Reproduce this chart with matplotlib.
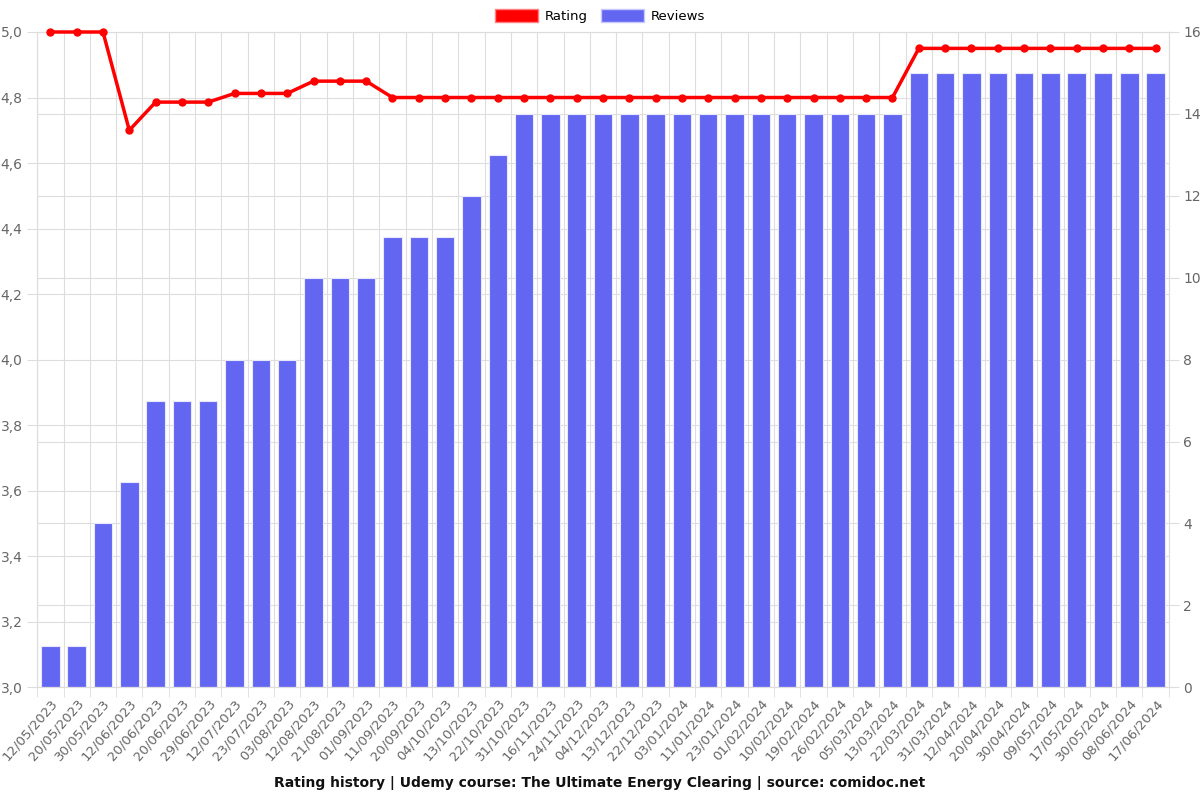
import numpy as np
import matplotlib
matplotlib.use('Agg')
import matplotlib.pyplot as plt
from matplotlib.patches import Patch
from matplotlib.ticker import FuncFormatter, FixedLocator

dates = ['12/05/2023', '20/05/2023', '30/05/2023', '12/06/2023', '20/06/2023',
         '20/06/2023', '29/06/2023', '12/07/2023', '23/07/2023', '03/08/2023',
         '12/08/2023', '21/08/2023', '01/09/2023', '11/09/2023', '20/09/2023',
         '04/10/2023', '13/10/2023', '22/10/2023', '31/10/2023', '16/11/2023',
         '24/11/2023', '04/12/2023', '13/12/2023', '22/12/2023', '03/01/2024',
         '11/01/2024', '23/01/2024', '01/02/2024', '10/02/2024', '19/02/2024',
         '26/02/2024', '05/03/2024', '13/03/2024', '22/03/2024', '31/03/2024',
         '12/04/2024', '20/04/2024', '30/04/2024', '09/05/2024', '17/05/2024',
         '30/05/2024', '08/06/2024', '17/06/2024']

reviews = [1, 1, 4, 5, 7, 7, 7, 8, 8, 8, 10, 10, 10, 11, 11, 11, 12, 13,
           14, 14, 14, 14, 14, 14, 14, 14, 14, 14, 14, 14, 14, 14, 14,
           15, 15, 15, 15, 15, 15, 15, 15, 15, 15]

rating = [5.0, 5.0, 5.0, 4.7, 4.786, 4.786, 4.786, 4.8125, 4.8125, 4.8125,
          4.85, 4.85, 4.85, 4.8, 4.8, 4.8, 4.8, 4.8, 4.8, 4.8, 4.8, 4.8,
          4.8, 4.8, 4.8, 4.8, 4.8, 4.8, 4.8, 4.8, 4.8, 4.8, 4.8,
          4.95, 4.95, 4.95, 4.95, 4.95, 4.95, 4.95, 4.95, 4.95, 4.95]

bar_color = '#6366f1'
line_color = '#ff0000'
grid_color = '#dddddd'
text_color = '#666666'

fig = plt.figure(figsize=(12, 8), dpi=100)
ax = fig.add_axes([0.031, 0.141, 0.943, 0.819])
ax2 = ax.twinx()

x = np.arange(len(dates))
r_min, r_max = 3.0, 5.0
n_max = 16

# vertical grid between categories, behind the bars
edges = np.arange(-0.5, len(dates), 1.0)
ax2.vlines(edges, 0, n_max, color=grid_color, linewidth=0.8, zorder=0)

# bars on the right axis
ax2.bar(x, reviews, width=0.7, color=bar_color, edgecolor='#e8e8ff', linewidth=0.8, zorder=2)
ax2.set_ylim(0, n_max)
ax2.set_yticks(np.arange(0, n_max + 1, 2))

# left axis ticks mapped onto the right axis so the grid sits behind the bars
left_ticks = np.arange(r_min, r_max + 0.01, 0.2)
ax2.yaxis.set_minor_locator(FixedLocator((left_ticks - r_min) / (r_max - r_min) * n_max))
ax2.tick_params(axis='y', which='minor', length=0)

# rating line on the left axis, drawn above bars
ax.set_zorder(ax2.get_zorder() + 1)
ax.patch.set_visible(False)
ax.plot(x, rating, color=line_color, linewidth=2.5, marker='o', markersize=5, zorder=5, clip_on=False)
ax.set_ylim(r_min, r_max)
ax.set_yticks(left_ticks)
ax.yaxis.set_major_formatter(FuncFormatter(lambda v, p: ('%.1f' % v).replace('.', ',')))

ax.set_xlim(-0.5, len(dates) - 0.5)
ax.set_xticks(x)
ax.set_xticklabels(dates, rotation=49, ha='right', va='top', rotation_mode='anchor', fontsize=9.5)
ax.xaxis.set_minor_locator(FixedLocator(edges))
ax.tick_params(axis='x', which='major', length=0, pad=7)
ax.tick_params(axis='x', which='minor', length=7, color=grid_color)

# horizontal grids (behind bars)
ax2.set_axisbelow(True)
ax2.grid(True, axis='y', which='both', color=grid_color, linewidth=0.8)
ax.grid(False)

for a in (ax, ax2):
    for s in a.spines.values():
        s.set_color(grid_color)
    a.tick_params(axis='y', colors=text_color, labelsize=10)
    a.tick_params(axis='y', which='major', length=7, color=grid_color)
ax.tick_params(axis='x', labelcolor=text_color)

handles = [Patch(facecolor=line_color, edgecolor='#ff8080', label='Rating'),
           Patch(facecolor=bar_color, edgecolor='#c8c8ff', label='Reviews')]
fig.legend(handles=handles, loc='center', bbox_to_anchor=(0.5, 0.98), ncol=2,
           frameon=False, fontsize=9.5, handlelength=3.3, handleheight=1.1,
           columnspacing=1.0, handletextpad=0.5)

fig.text(0.5, 0.021, 'Rating history | Udemy course: The Ultimate Energy Clearing | source: comidoc.net',
         ha='center', va='center', fontsize=10, fontweight='bold', color='#111111')

fig.savefig('out.png', dpi=100)
